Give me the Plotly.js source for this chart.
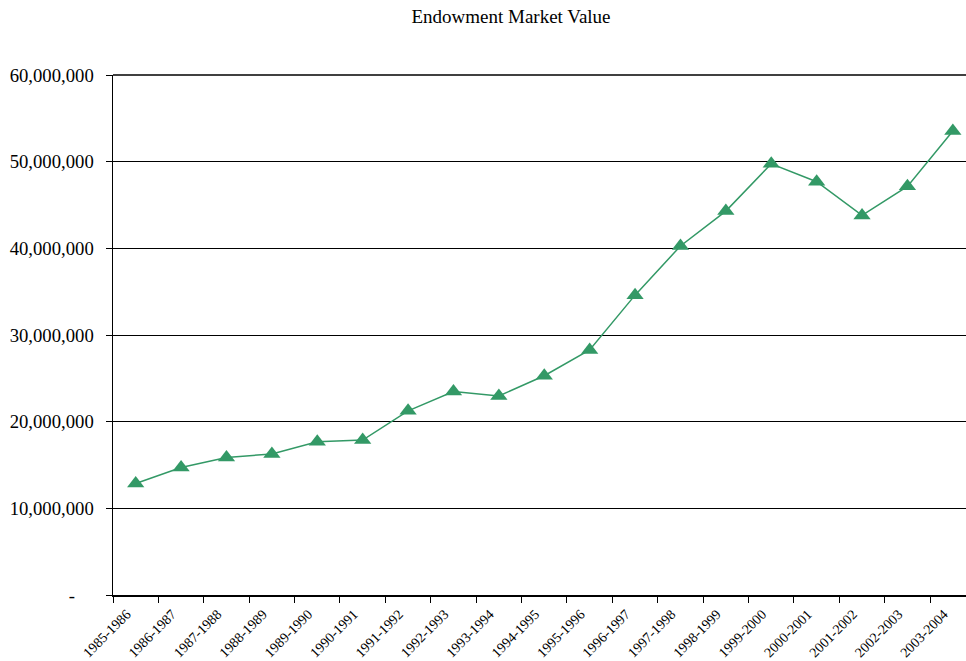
<!DOCTYPE html>
<html>
<head>
<meta charset="utf-8">
<script src="https://cdn.plot.ly/plotly-3.0.1.min.js"></script>
<style>html,body{margin:0;padding:0;background:#fff;}#chart{width:966px;height:661px;}</style>
</head>
<body>
<div id="chart"></div>
<script>
const categories = ["1985-1986","1986-1987","1987-1988","1988-1989","1989-1990","1990-1991","1991-1992","1992-1993","1993-1994","1994-1995","1995-1996","1996-1997","1997-1998","1998-1999","1999-2000","2000-2001","2001-2002","2002-2003","2003-2004"];
const marketValue = [12870000,14710000,15870000,16270000,17680000,17880000,21250000,23470000,22960000,25300000,28270000,34600000,40270000,44300000,49750000,47680000,43800000,47150000,53550000];
const yTickVals = [0,10000000,20000000,30000000,40000000,50000000,60000000];
const yTickText = ["-\u00A0\u00A0\u00A0\u00A0","10,000,000","20,000,000","30,000,000","40,000,000","50,000,000","60,000,000"];

const trace = {
  x: categories,
  y: marketValue,
  type: 'scatter',
  mode: 'lines+markers',
  line: {color: '#339966', width: 1.5},
  marker: {symbol: 'triangle-up', size: 15, color: '#339966'},
  hoverinfo: 'x+y'
};

const serif = '"Liberation Serif", "Times New Roman", serif';
const layout = {
  width: 966, height: 661,
  margin: {l: 113, r: 0, t: 75, b: 66},
  paper_bgcolor: '#fff', plot_bgcolor: '#fff',
  showlegend: false,
  title: {text: 'Endowment Market Value', font: {family: serif, size: 19, color: '#000'}, x: 0.529, xref: 'container', y: 0.975, yanchor: 'middle'},
  xaxis: {
    type: 'category',
    range: [-0.5, 18.29],
    tickson: 'boundaries',
    ticks: 'outside', ticklen: 6, tickcolor: '#000', tickwidth: 1,
    showline: true, linecolor: '#000', linewidth: 1.5,
    showgrid: false, zeroline: false,
    tickangle: -45,
    ticklabelstandoff: 4,
    ticklabelshift: -9,
    tickfont: {family: serif, size: 14, color: '#000'}
  },
  yaxis: {
    range: [0, 60000000],
    tickvals: yTickVals, ticktext: yTickText,
    ticks: 'outside', ticklen: 6, tickcolor: '#000', tickwidth: 1,
    ticklabelstandoff: 8,
    showline: true, linecolor: '#000', linewidth: 1.5,
    showgrid: true, gridcolor: '#000', gridwidth: 1,
    zeroline: false,
    tickfont: {family: serif, size: 18.7, color: '#000'}
  },
  shapes: [{
    type: 'line', xref: 'paper', yref: 'paper', x0: 0, x1: 1, y0: 1, y1: 1,
    line: {color: '#000', width: 1.5}, layer: 'below'
  }]
};

Plotly.newPlot('chart', [trace], layout, {displayModeBar: false, staticPlot: true});
</script>
</body>
</html>
